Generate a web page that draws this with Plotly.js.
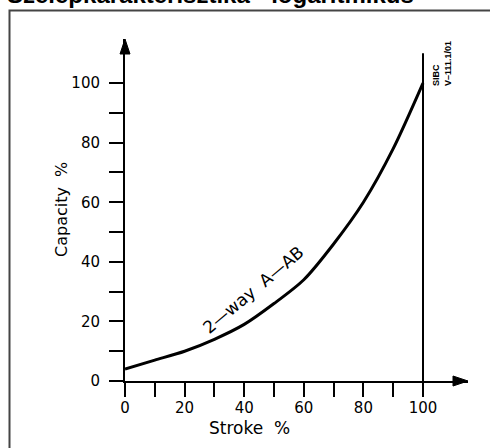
<!DOCTYPE html>
<html>
<head>
<meta charset="utf-8">
<script src="https://cdn.plot.ly/plotly-3.0.1.min.js"></script>
<style>
  html, body { margin: 0; padding: 0; background: #fff; }
  #chart { width: 490px; height: 448px; }
</style>
</head>
<body>
<div id="chart"></div>
<script>
// Data
const stroke   = [0, 10, 20, 30, 40, 50, 60, 70, 80, 90, 100];
const capacity = [4, 7, 10, 14, 19, 26, 34, 46, 60, 78, 100];

const xTickVals = [0, 10, 20, 30, 40, 50, 60, 70, 80, 90, 100];
const xTickText = ['0', '', '20', '', '40', '', '60', '', '80', '', '100'];
const yTickVals = [0, 10, 20, 30, 40, 50, 60, 70, 80, 90, 100];
const yTickText = ['0', '', '20', '', '40', '', '60', '', '80', '', '100'];

const chartTitle = 'Szelepkarakterisztika - logaritmikus';
const xTitle = 'Stroke  %';
const yTitle = 'Capacity  %';
const curveLabel = '2—way  A—AB';
const docCode = 'SIBC<br>V–111.1/01';

const tickFont = { family: 'DejaVu Sans', size: 15, color: '#000' };

const trace = {
  x: stroke, y: capacity,
  type: 'scatter', mode: 'lines',
  line: { color: '#000', width: 3, shape: 'spline', smoothing: 0.8 },
  hoverinfo: 'skip'
};

const axisCommon = {
  showline: true, linewidth: 2, linecolor: '#000',
  ticks: 'outside', ticklen: 14, tickwidth: 2, tickcolor: '#000',
  tickmode: 'array', showgrid: false, zeroline: false,
  tickfont: tickFont, fixedrange: true
};

const layout = {
  width: 490, height: 448,
  margin: { l: 125, r: 22, t: 39, b: 67, pad: 0 },
  paper_bgcolor: '#fff', plot_bgcolor: '#fff',
  showlegend: false,
  xaxis: Object.assign({}, axisCommon, {
    range: [0, 115.1], tickvals: xTickVals, ticktext: xTickText, ticklabelstandoff: -2
  }),
  yaxis: Object.assign({}, axisCommon, {
    range: [0, 114.8], tickvals: yTickVals, ticktext: yTickText, ticklabelstandoff: 6
  }),
  shapes: [
    // outer frame
    { type: 'rect', xref: 'paper', yref: 'paper',
      x0: (9.5 - 125) / 343, x1: (500 - 125) / 343,
      y0: (381 - 460) / 342, y1: (381 - 10.5) / 342,
      line: { color: '#444', width: 2 }, fillcolor: 'rgba(0,0,0,0)', layer: 'below' },
    // vertical line at full stroke
    { type: 'line', xref: 'x', yref: 'y',
      x0: stroke[stroke.length - 1], x1: stroke[stroke.length - 1], y0: 0, y1: 110,
      line: { color: '#000', width: 2 } },
    // x-axis arrowhead
    { type: 'path', xref: 'paper', yref: 'paper',
      xsizemode: 'pixel', ysizemode: 'pixel', xanchor: 1, yanchor: 0,
      path: 'M0,0 L-15,5 L-15,-5 Z', fillcolor: '#000', line: { color: '#000', width: 1 } },
    // y-axis arrowhead
    { type: 'path', xref: 'paper', yref: 'paper',
      xsizemode: 'pixel', ysizemode: 'pixel', xanchor: 0, yanchor: 1,
      path: 'M0,0 L-5,-15 L5,-15 Z', fillcolor: '#000', line: { color: '#000', width: 1 } }
  ],
  annotations: [
    { text: '<b>' + chartTitle + '</b>', xref: 'paper', yref: 'paper',
      x: (5 - 125) / 343, y: (381 + 5.5) / 342, xanchor: 'left', yanchor: 'middle',
      showarrow: false, font: { family: 'Liberation Sans', size: 24, color: '#000' } },
    { text: xTitle, xref: 'paper', yref: 'paper',
      x: (249 - 125) / 343, y: (381 - 428) / 342, xanchor: 'center', yanchor: 'middle',
      showarrow: false, font: { family: 'DejaVu Sans', size: 17, color: '#000' } },
    { text: yTitle, xref: 'paper', yref: 'paper', textangle: -90,
      x: (61 - 125) / 343, y: 0.5, xanchor: 'center', yanchor: 'middle',
      showarrow: false, font: { family: 'DejaVu Sans', size: 16, color: '#000' } },
    { text: curveLabel, xref: 'x', yref: 'y', textangle: -40,
      x: 43, y: 30.5, xanchor: 'center', yanchor: 'middle',
      showarrow: false, font: { family: 'DejaVu Sans', size: 17, color: '#000' } },
    { text: '<b>' + docCode + '</b>', xref: 'paper', yref: 'paper', textangle: -90,
      x: (441.5 - 125) / 343, y: (381 - 63.5) / 342, xanchor: 'center', yanchor: 'middle',
      align: 'left',
      showarrow: false, font: { family: 'Liberation Sans', size: 9, color: '#000' } }
  ]
};

Plotly.newPlot('chart', [trace], layout, { staticPlot: true, displayModeBar: false });
</script>
</body>
</html>
